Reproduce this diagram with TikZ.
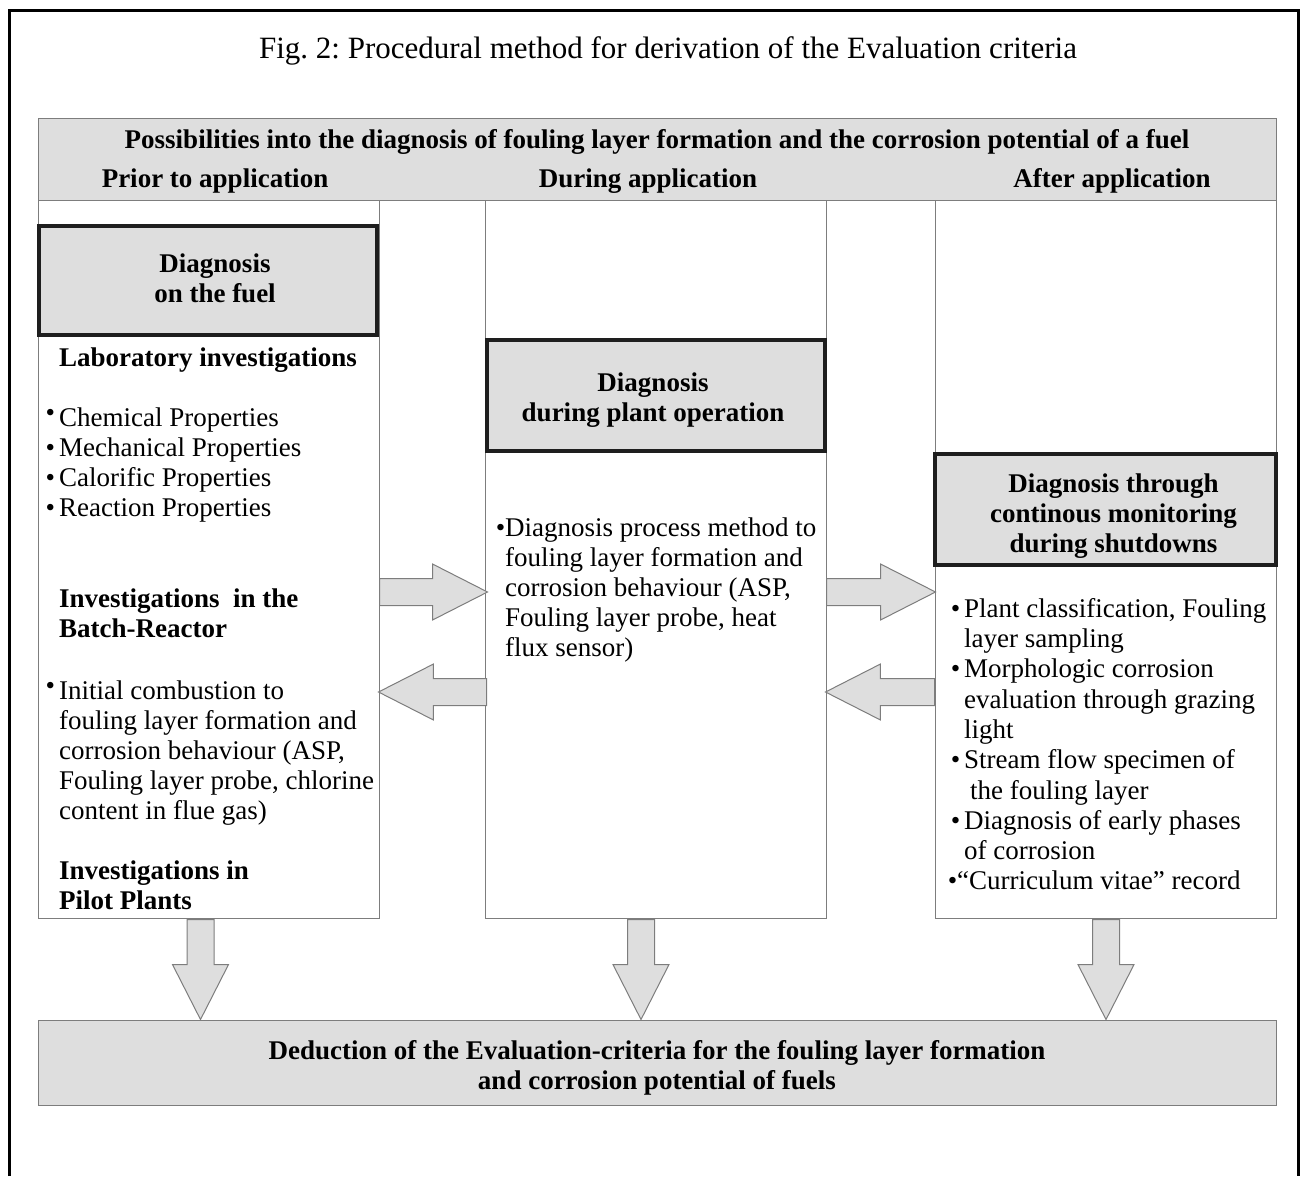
\documentclass[tikz,border=0pt]{standalone}
\usepackage{fontspec}
\setmainfont{Liberation Serif}
\usetikzlibrary{shapes.arrows}
\definecolor{boxgray}{RGB}{222,222,222}
\definecolor{linegray}{RGB}{125,125,125}
\definecolor{darkline}{RGB}{30,30,30}
\newcommand{\bodyfont}{\fontsize{27}{30}\selectfont}
\newcommand{\bul}[1][0pt]{\leavevmode\llap{\raisebox{#1}{\textbullet}\hspace{4pt}}}
\frenchspacing
\begin{document}
\begin{tikzpicture}[x=1pt, y=-1pt,
    colbox/.style={draw=linegray, line width=1pt, inner sep=0pt, minimum width=341, minimum height=718},
    headbox/.style={draw=linegray, line width=1pt, fill=boxgray, inner sep=0pt, minimum width=1238},
    titlebox/.style={draw=darkline, line width=4pt, fill=boxgray, inner sep=0pt},
    titletext/.style={align=center, inner sep=0pt, font=\bodyfont\bfseries},
    fatarrow/.style={single arrow, draw=linegray, line width=1pt, fill=boxgray, inner xsep=0pt, inner ysep=13pt, single arrow head extend=14.5pt, single arrow tip angle=54, anchor=tail}]
\useasboundingbox (0,0) rectangle (1303,1176);
\draw[line width=3pt] (9,1176) |- (1298,10) -- (1298,1176);
\node[anchor=base, font=\fontsize{31}{36}\selectfont] (fig) at (668,58) {Fig. 2: Procedural method for derivation of the Evaluation criteria};
\node[headbox, minimum height=82] (head) at (657,159) {};
\begin{scope}[every node/.style={anchor=base, font=\bodyfont\bfseries}]
    \node (poss) at (657,148) {Possibilities into the diagnosis of fouling layer formation and the corrosion potential of a fuel};
    \node (prior) at (215,187) {Prior to application};
    \node (during) at (648,187) {During application};
    \node (after) at (1112,187) {After application};
\end{scope}
\node[colbox] (colL) at (208.5,559) {};
\node[colbox] (colM) at (656,559) {};
\node[colbox] (colR) at (1105.5,559) {};
\node[titlebox, minimum width=338, minimum height=109] (tL) at (208,280.5) {};
\node[titlebox, minimum width=338, minimum height=111] (tM) at (656,395.5) {};
\node[titlebox, minimum width=341, minimum height=111] (tR) at (1105.5,509.5) {};
\node[titletext] at ([xshift=7pt, yshift=2pt]tL.center) {Diagnosis\\on the fuel};
\node[titletext] at ([xshift=-3pt, yshift=-5pt]tM.center) {Diagnosis\\during plant operation};
\node[titletext] at ([xshift=8pt, yshift=-7pt]tR.center) {Diagnosis through\\continous monitoring\\during shutdowns};
\begin{scope}[every node/.style={anchor=north west, align=left, inner sep=0pt, font=\bodyfont, execute at begin node=\strut}]
    \node[font=\bodyfont\bfseries] (lab) at (59,345) {Laboratory investigations};
    \node (props) at (59,408) {\bul[5pt]Chemical Properties\\\bul Mechanical Properties\\\bul Calorific Properties\\\bul Reaction Properties};
    \node[font=\bodyfont\bfseries] (batch) at (59,589) {Investigations\ \ in the\\Batch-Reactor};
    \node (initial) at (59,681) {\bul[5pt]Initial combustion to\\fouling layer formation and\\corrosion behaviour (ASP,\\Fouling layer probe, chlorine\\content in flue gas)};
    \node[font=\bodyfont\bfseries] (pilot) at (59,861) {Investigations in\\Pilot Plants};
    \node (process) at (505,518) {\leavevmode\llap{\textbullet}Diagnosis process method to\\fouling layer formation and\\corrosion behaviour (ASP,\\Fouling layer probe, heat\\flux sensor)};
    \node[font=\fontsize{27}{30.3}\selectfont] (shut) at (964,598) {\bul Plant classification, Fouling\\layer sampling\\\bul Morphologic corrosion\\evaluation through grazing\\light\\\bul Stream flow specimen of\\\hspace{6pt}the fouling layer\\\bul Diagnosis of early phases\\of corrosion\\\kern-7pt\llap{\textbullet}``Curriculum vitae'' record};
\end{scope}
\node[fatarrow, minimum height=108] (toM) at (379,592) {};
\node[fatarrow, minimum height=108, rotate=180] (toL) at (487,692) {};
\node[fatarrow, minimum height=109] (toR) at (826,592) {};
\node[fatarrow, minimum height=109, rotate=180] (backM) at (935,692) {};
\node[headbox, minimum height=85] (deduct) at (657,1062.5) {};
\node[titletext] at ([yshift=-5pt]deduct.center) {Deduction of the Evaluation-criteria for the fouling layer formation\\and corrosion potential of fuels};
\node[fatarrow, minimum height=100, rotate=-90] (downL) at (200.5,919) {};
\node[fatarrow, minimum height=100, rotate=-90] (downM) at (641,919) {};
\node[fatarrow, minimum height=100, rotate=-90] (downR) at (1106,919) {};
\end{tikzpicture}
\end{document}
